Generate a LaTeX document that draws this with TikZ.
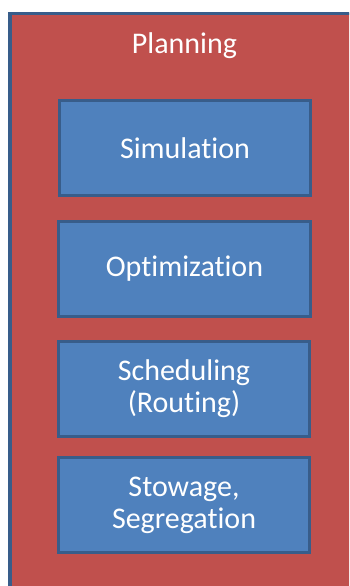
\documentclass[tikz,border=0pt]{standalone}
\usepackage{fontspec}
\setmainfont{Carlito}[Ligatures=NoCommon]
\definecolor{planred}{HTML}{C0504D}
\definecolor{boxblue}{HTML}{4F81BD}
\definecolor{edgeblue}{HTML}{385D8A}
\begin{document}
\begin{tikzpicture}[x=1bp,y=-1bp,
  panel/.style={fill=planred,draw=edgeblue,line width=3.2bp},
  task/.style={rectangle,fill=boxblue,draw=edgeblue,line width=3bp,
    minimum width=251bp,minimum height=95bp,inner sep=0pt,
    text=white,align=center,font=\fontsize{30bp}{32bp}\selectfont},
  title/.style={text=white,font=\fontsize{30bp}{32bp}\selectfont,inner sep=0pt}]
\useasboundingbox (0,0) rectangle (349,586);
\clip (0,0) rectangle (349,586);
% outer planning panel, running past the right and bottom edges
\draw[panel] (10,13.5) rectangle (420,640);
\node[title] (planning) at (184.5,46) {Planning};
\node[task] (sim) at (185,148) {Simulation};
\node[task] (opt) at (184.5,268.5) {Optimization};
\node[task] (sched) at (184,389) {Scheduling\\(Routing)};
\node[task] (stow) at (184,505) {Stowage,\\Segregation};
\end{tikzpicture}
\end{document}
